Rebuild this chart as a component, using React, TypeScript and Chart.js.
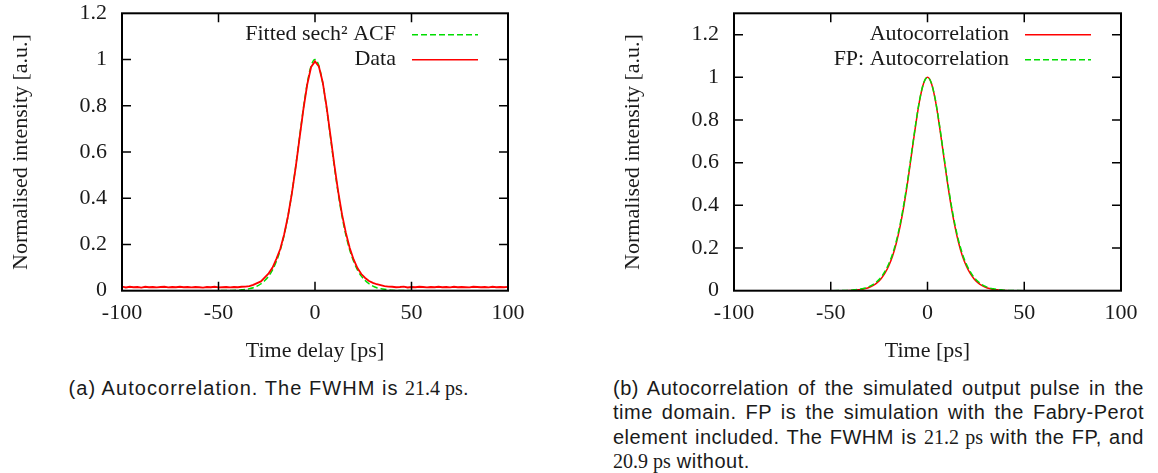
import React, { useEffect, useRef } from 'react';
import { Chart, registerables } from 'chart.js';

Chart.register(...registerables);

// ---------- shared ticks ----------
const xTickValues = [-100, -50, 0, 50, 100];
const yTickValues = [0, 0.2, 0.4, 0.6, 0.8, 1, 1.2];

// ---------- left panel: measured data + fitted sech^2 ACF ----------
const dataTime = [
  -100, -98, -96, -94, -92, -90, -88, -86, -84, -82, -80, -78, -76, -74, -72, -70, -68, -66, -64, -62,
  -60, -58, -56, -54, -52, -50, -48, -46, -44, -42, -40, -38, -36, -34, -32, -30, -28, -26, -24, -22,
  -20, -18, -16, -14, -12, -10, -8, -6, -4, -2, 0, 2, 4, 6, 8, 10, 12, 14, 16, 18,
  20, 22, 24, 26, 28, 30, 32, 34, 36, 38, 40, 42, 44, 46, 48, 50, 52, 54, 56, 58,
  60, 62, 64, 66, 68, 70, 72, 74, 76, 78, 80, 82, 84, 86, 88, 90, 92, 94, 96, 98, 100,
];
const dataIntensity = [
  0.018, 0.014, 0.017, 0.015, 0.016, 0.013, 0.017, 0.015, 0.016, 0.014, 0.016, 0.017, 0.014, 0.016, 0.015, 0.017, 0.015, 0.016, 0.014, 0.016,
  0.015, 0.013, 0.016, 0.015, 0.017, 0.014, 0.015, 0.016, 0.014, 0.016, 0.015, 0.017, 0.018, 0.020, 0.025, 0.033, 0.040, 0.058, 0.075, 0.100,
  0.138, 0.180, 0.243, 0.322, 0.420, 0.533, 0.660, 0.785, 0.893, 0.968, 0.992, 0.970, 0.902, 0.795, 0.672, 0.545, 0.430, 0.330, 0.250, 0.185,
  0.135, 0.098, 0.072, 0.055, 0.042, 0.034, 0.028, 0.024, 0.020, 0.018, 0.017, 0.015, 0.016, 0.018, 0.014, 0.016, 0.015, 0.017, 0.016, 0.014,
  0.016, 0.015, 0.017, 0.015, 0.016, 0.014, 0.017, 0.015, 0.016, 0.015, 0.014, 0.017, 0.016, 0.015, 0.016, 0.014, 0.017, 0.015, 0.016, 0.015, 0.017,
];
const fitTime = [
  -100, -60, -44, -40, -38, -36, -34, -32, -30, -28, -26, -24, -22, -20, -18, -16, -14, -12, -10, -8, -6, -4, -2,
  0, 2, 4, 6, 8, 10, 12, 14, 16, 18, 20, 22, 24, 26, 28, 30, 32, 34, 36, 38, 40, 44, 60, 100,
];
const fitIntensity = [
  0, 0, 0.001, 0.002, 0.004, 0.006, 0.009, 0.013, 0.020, 0.030, 0.044, 0.063, 0.090, 0.127, 0.176, 0.240, 0.322, 0.422, 0.538, 0.665, 0.790, 0.898, 0.973,
  1.0, 0.973, 0.898, 0.790, 0.665, 0.538, 0.422, 0.322, 0.240, 0.176, 0.127, 0.090, 0.063, 0.044, 0.030, 0.020, 0.013, 0.009, 0.006, 0.004, 0.002, 0.001, 0, 0,
];

// ---------- right panel: simulated autocorrelations ----------
const simTime = [
  -100, -50, -44, -40, -38, -36, -34, -32, -30, -28, -26, -24, -22, -20, -18, -16, -14, -12, -10, -8, -6, -4, -2,
  0, 2, 4, 6, 8, 10, 12, 14, 16, 18, 20, 22, 24, 26, 28, 30, 32, 34, 36, 38, 40, 44, 50, 100,
];
const simAuto = [
  0, 0, 0, 0.001, 0.002, 0.004, 0.006, 0.010, 0.016, 0.025, 0.038, 0.056, 0.082, 0.117, 0.164, 0.227, 0.308, 0.408, 0.525, 0.655, 0.783, 0.895, 0.972,
  1.0, 0.972, 0.895, 0.783, 0.655, 0.525, 0.408, 0.308, 0.227, 0.164, 0.117, 0.082, 0.056, 0.038, 0.025, 0.016, 0.010, 0.006, 0.004, 0.002, 0.001, 0, 0, 0,
];
const simFP = [
  0, 0, 0.001, 0.002, 0.004, 0.006, 0.009, 0.013, 0.020, 0.030, 0.044, 0.063, 0.090, 0.126, 0.174, 0.237, 0.318, 0.418, 0.534, 0.662, 0.788, 0.898, 0.973,
  1.0, 0.973, 0.898, 0.788, 0.662, 0.534, 0.418, 0.318, 0.237, 0.174, 0.126, 0.090, 0.063, 0.044, 0.030, 0.020, 0.013, 0.009, 0.006, 0.004, 0.002, 0.001, 0, 0,
];

const RED = '#ff0000';
const GREEN = '#00dd00';
const TEXT = '#1a1a1a';
const SERIF = '"Liberation Serif", "Times New Roman", serif';
const TICK_LEN = 9;

const pts = (xs: number[], ys: number[]) => xs.map((x, i) => ({ x, y: ys[i] }));

const framePlugin = {
  id: 'gpFrame',
  afterDatasetsDraw(chart: any) {
    const { ctx, chartArea } = chart;
    const { left, right, top, bottom } = chartArea;
    const xs = chart.scales.x;
    const ys = chart.scales.y;
    ctx.save();
    ctx.strokeStyle = '#000';
    ctx.lineWidth = 1.5;
    ctx.setLineDash([]);
    ctx.beginPath();
    xs.ticks.forEach((t: any) => {
      const px = xs.getPixelForValue(t.value);
      if (px <= left + 1 || px >= right - 1) return;
      ctx.moveTo(px, bottom);
      ctx.lineTo(px, bottom - TICK_LEN);
      ctx.moveTo(px, top);
      ctx.lineTo(px, top + TICK_LEN);
    });
    ys.ticks.forEach((t: any) => {
      const py = ys.getPixelForValue(t.value);
      if (py <= top + 1 || py >= bottom - 1) return;
      ctx.moveTo(left, py);
      ctx.lineTo(left + TICK_LEN, py);
      ctx.moveTo(right, py);
      ctx.lineTo(right - TICK_LEN, py);
    });
    ctx.stroke();
    ctx.lineWidth = 2;
    ctx.strokeRect(left, top, right - left, bottom - top);
    ctx.restore();
  },
};

const legendPlugin = {
  id: 'gpLegend',
  afterDatasetsDraw(chart: any, _args: any, opts: any) {
    const { ctx, chartArea } = chart;
    ctx.save();
    ctx.font = `22px ${SERIF}`;
    ctx.textAlign = 'right';
    ctx.textBaseline = 'middle';
    chart.data.datasets.forEach((ds: any, i: number) => {
      const yy = chartArea.top + opts.firstRow + i * opts.rowGap;
      ctx.fillStyle = TEXT;
      ctx.fillText(ds.label, chartArea.right - opts.textRight, yy - 1);
      ctx.strokeStyle = ds.borderColor;
      ctx.lineWidth = 1.5;
      ctx.setLineDash(ds.borderDash || []);
      ctx.beginPath();
      ctx.moveTo(chartArea.right - opts.lineStart, yy);
      ctx.lineTo(chartArea.right - opts.lineEnd, yy);
      ctx.stroke();
    });
    ctx.restore();
  },
};

function makeOptions(yMax: number, xTitle: string, padLeft: number, padRight: number): any {
  const font = { family: SERIF, size: 22 };
  return {
    animation: false,
    responsive: false,
    maintainAspectRatio: false,
    events: [],
    layout: { padding: { left: padLeft, right: padRight, top: 13.3, bottom: 0 } },
    plugins: {
      legend: { display: false },
      tooltip: { enabled: false },
      gpLegend: { firstRow: 21.5, rowGap: 25, textRight: 112, lineStart: 96, lineEnd: 30 },
    },
    elements: { point: { radius: 0 }, line: { borderWidth: 1.5 } },
    scales: {
      x: {
        type: 'linear',
        min: -100,
        max: 100,
        grid: { display: false, drawTicks: false },
        border: { display: false },
        afterBuildTicks: (s: any) => { s.ticks = xTickValues.map((v) => ({ value: v })); },
        afterFit: (s: any) => {
          s.height = 81.3;
          s.paddingLeft = 0; s.paddingRight = 0; s.paddingTop = 0; s.paddingBottom = 0;
        },
        ticks: { font, color: TEXT, padding: 9, maxRotation: 0, autoSkip: false, callback: (v: number) => String(v) },
        title: { display: true, text: xTitle, font, color: TEXT, padding: { top: 0, bottom: 7.8 } },
      },
      y: {
        type: 'linear',
        min: 0,
        max: yMax,
        grid: { display: false, drawTicks: false },
        border: { display: false },
        afterBuildTicks: (s: any) => { s.ticks = yTickValues.map((v) => ({ value: v })); },
        afterFit: (s: any) => {
          s.width = 122;
          s.paddingLeft = 0; s.paddingRight = 0; s.paddingTop = 0; s.paddingBottom = 0;
        },
        ticks: { font, color: TEXT, padding: 15, autoSkip: false, callback: (v: number) => String(v) },
        title: { display: true, text: 'Normalised intensity [a.u.]', font, color: TEXT, padding: { top: 8.3, bottom: 0 } },
      },
    },
  };
}

function PlotCanvas({ config, width, height }: { config: () => any; width: number; height: number }) {
  const ref = useRef<HTMLCanvasElement | null>(null);
  useEffect(() => {
    if (!ref.current) return;
    const chart = new Chart(ref.current, config());
    return () => chart.destroy();
  }, []);
  return <canvas ref={ref} width={width} height={height} style={{ width, height, display: 'block' }} />;
}

const leftConfig = () => ({
  type: 'line',
  data: {
    datasets: [
      {
        label: 'Fitted sech\u00B2 ACF',
        data: pts(fitTime, fitIntensity),
        borderColor: GREEN,
        borderDash: [6, 3],
        borderWidth: 1.5,
        cubicInterpolationMode: 'monotone',
        order: 1,
      },
      {
        label: 'Data',
        data: pts(dataTime, dataIntensity),
        borderColor: RED,
        borderWidth: 1.8,
        tension: 0,
        order: 0,
      },
    ],
  },
  options: makeOptions(1.2, 'Time delay [ps]', 0, 52),
  plugins: [framePlugin, legendPlugin],
});

const rightConfig = () => ({
  type: 'line',
  data: {
    datasets: [
      {
        label: 'Autocorrelation',
        data: pts(simTime, simAuto),
        borderColor: RED,
        borderWidth: 1.5,
        cubicInterpolationMode: 'monotone',
        order: 1,
      },
      {
        label: 'FP: Autocorrelation',
        data: pts(simTime, simFP),
        borderColor: GREEN,
        borderDash: [6, 3],
        borderWidth: 1.5,
        cubicInterpolationMode: 'monotone',
        order: 0,
      },
    ],
  },
  options: makeOptions(1.3, 'Time [ps]', 32, 37),
  plugins: [framePlugin, legendPlugin],
});

const capFont: React.CSSProperties = {
  fontFamily: '"Liberation Sans", Arial, sans-serif',
  fontSize: 20,
  letterSpacing: 0.5,
  color: TEXT,
  lineHeight: '24.3px',
};
const num: React.CSSProperties = { fontFamily: SERIF, letterSpacing: 0 };
const justLine: React.CSSProperties = { textAlign: 'justify', textAlignLast: 'justify' as any, whiteSpace: 'nowrap' };

export default function App() {
  return (
    <div style={{ position: 'fixed', left: 0, top: 0, width: 1158, height: 473, background: '#fff', overflow: 'hidden' }}>
      <div style={{ position: 'absolute', left: 0, top: 0 }}>
        <PlotCanvas config={leftConfig} width={560} height={372} />
      </div>
      <div style={{ position: 'absolute', left: 580, top: 0 }}>
        <PlotCanvas config={rightConfig} width={578} height={372} />
      </div>
      <div style={{ ...capFont, letterSpacing: 1.05, position: 'absolute', left: 0, width: 538, top: 376, textAlign: 'center' }}>
        (a) Autocorrelation. The FWHM is <span style={num}>21.4 ps</span>.
      </div>
      <div style={{ ...capFont, position: 'absolute', left: 613, width: 531, top: 376 }}>
        <div style={justLine}>(b) Autocorrelation of the simulated output pulse in the</div>
        <div style={justLine}>time domain. FP is the simulation with the Fabry-Perot</div>
        <div style={justLine}>
          element included. The FWHM is <span style={num}>21.2 ps</span> with the FP, and
        </div>
        <div style={{ textAlign: 'left' }}>
          <span style={num}>20.9 ps</span> without.
        </div>
      </div>
    </div>
  );
}
